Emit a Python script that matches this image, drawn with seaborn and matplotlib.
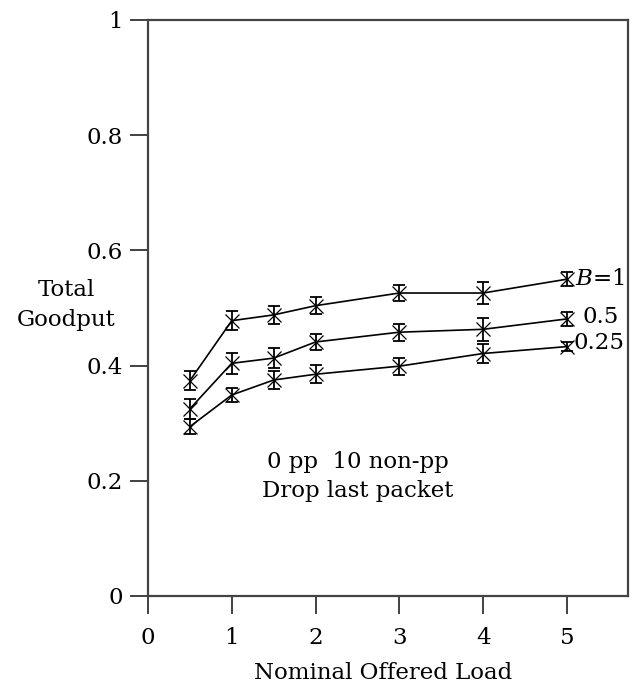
import matplotlib
matplotlib.use("Agg")
import matplotlib.pyplot as plt
import seaborn as sns
import pandas as pd

# Offered load levels and measured goodput for each buffer setting B
load = [0.5, 1, 1.5, 2, 3, 4, 5]
goodput_b1 = [0.374, 0.478, 0.488, 0.504, 0.526, 0.526, 0.550]
goodput_b05 = [0.325, 0.404, 0.413, 0.441, 0.458, 0.463, 0.481]
goodput_b025 = [0.294, 0.349, 0.375, 0.385, 0.399, 0.421, 0.433]
err_b1 = [0.017, 0.017, 0.016, 0.015, 0.014, 0.019, 0.012]
err_b05 = [0.017, 0.018, 0.017, 0.014, 0.015, 0.020, 0.012]
err_b025 = [0.013, 0.012, 0.016, 0.016, 0.015, 0.016, 0.008]
series_names = ["1", "0.5", "0.25"]
xticks = [0, 1, 2, 3, 4, 5]
yticks = [0, 0.2, 0.4, 0.6, 0.8, 1]
ytick_labels = ["0", "0.2", "0.4", "0.6", "0.8", "1"]

sns.set_theme(style="ticks")
plt.rcParams["font.family"] = ["DejaVu Serif"]
plt.rcParams["mathtext.fontset"] = "dejavuserif"
plt.rcParams["text.color"] = "black"

FS = 16.5

frames = []
for name, vals, errs in zip(series_names,
                            [goodput_b1, goodput_b05, goodput_b025],
                            [err_b1, err_b05, err_b025]):
    frames.append(pd.DataFrame({"load": load, "goodput": vals, "err": errs, "B": name}))
df = pd.concat(frames, ignore_index=True)

fig = plt.figure(figsize=(6.34, 6.89), dpi=100)
ax = fig.add_axes([148 / 634, 93 / 689, 480 / 634, 576 / 689])

sns.lineplot(data=df, x="load", y="goodput", hue="B", units="B", estimator=None,
             palette=["black"] * 3, marker="x", markersize=10, markeredgewidth=0.9,
             markeredgecolor="black", linewidth=1.2, legend=False, ax=ax)
for name, sub in df.groupby("B", sort=False):
    ax.errorbar(sub["load"], sub["goodput"], yerr=sub["err"], fmt="none",
                ecolor="black", elinewidth=1.3, capsize=4.5, capthick=1.3)

ax.set_xlim(0, 5.73)
ax.set_ylim(0, 1)
ax.set_xticks(xticks)
ax.set_yticks(yticks)
ax.set_yticklabels(ytick_labels)
for side in ["left", "bottom", "top", "right"]:
    ax.spines[side].set_linewidth(1.6)
    ax.spines[side].set_color("#444444")
ax.tick_params(direction="out", length=13, width=1.3, color="#333333",
               labelsize=FS, labelcolor="black")
ax.tick_params(axis="x", pad=9)
ax.tick_params(axis="y", pad=5)

ax.set_xlabel("Nominal Offered Load", fontsize=FS, color="black", labelpad=0)
ax.xaxis.set_label_coords(0.49, -0.115)
ax.set_ylabel("Total\nGoodput", fontsize=FS, color="black", rotation=0,
              ha="center", va="center", labelpad=0, linespacing=1.5)
ax.yaxis.set_label_coords(-0.17, 0.505)

ax.text(2.5, 0.207, "0 pp  10 non-pp\nDrop last packet", ha="center", va="center",
        fontsize=FS, linespacing=1.4)

ax.text(5.1, goodput_b1[-1], "$B$=1", ha="left", va="center", fontsize=FS)
ax.text(5.19, 0.485, "0.5", ha="left", va="center", fontsize=FS)
ax.text(5.08, 0.44, "0.25", ha="left", va="center", fontsize=FS)

fig.savefig("out.png", dpi=100)
